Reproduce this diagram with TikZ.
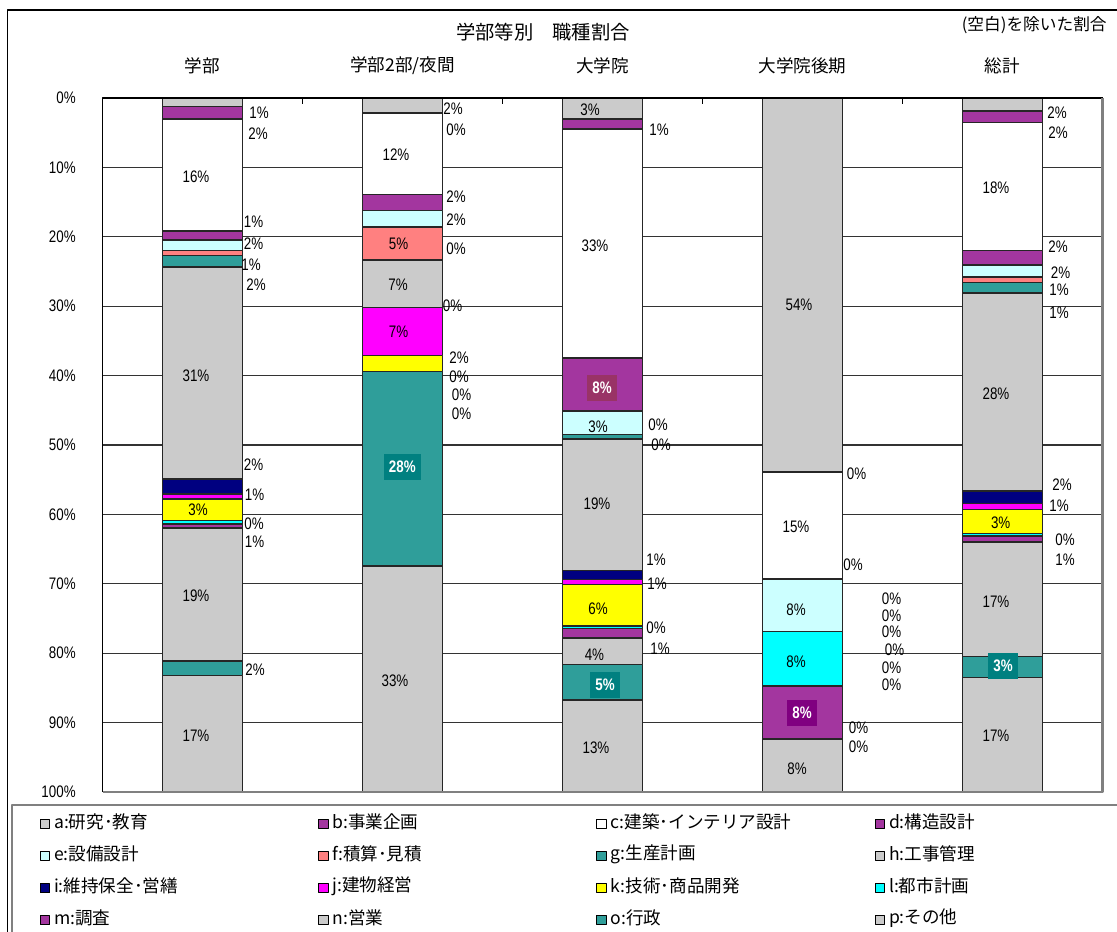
\documentclass[tikz,border=0pt]{standalone}
\usepackage{fontspec}
\setmainfont{Noto Sans CJK JP}
\newfontfamily\pctfont[FakeStretch=0.8]{Liberation Sans}
\definecolor{segA}{HTML}{CBCBCB}
\definecolor{segB}{HTML}{A3369F}
\definecolor{segE}{HTML}{CCFFFF}
\definecolor{segF}{HTML}{FF8080}
\definecolor{segG}{HTML}{2F9E9A}
\definecolor{segI}{HTML}{000080}
\definecolor{segJ}{HTML}{FF00FF}
\definecolor{segK}{HTML}{FFFF00}
\definecolor{segL}{HTML}{00FFFF}
\definecolor{boxT}{HTML}{008080}
\definecolor{boxR}{HTML}{993366}
\definecolor{boxP}{HTML}{800080}
\begin{document}
\begin{tikzpicture}[x=0.02cm,y=-0.02cm,line join=round,
    seg/.style={draw=black!85,line width=0.9pt},
    val/.style={font=\pctfont\fontsize{9.5}{10}\selectfont,inner sep=0pt},
    valbox/.style={fill=#1,text=white,font=\pctfont\bfseries\fontsize{9.5}{10}\selectfont,
        inner xsep=3pt,inner ysep=0pt,minimum height=0.52cm},
    cat/.style={font=\fontsize{10}{12}\selectfont,inner sep=0pt},
    key/.style={draw=black,line width=0.6pt,minimum width=0.19cm,minimum height=0.18cm,inner sep=0pt}]
    \useasboundingbox (0,0) rectangle (1117,931);
    \clip (0,0) rectangle (1117,931);
    \def\yt{98} \def\dy{6.94} % 1% = 6.94
    \draw[line width=0.6pt] (7.5,10) rectangle (1140,950);
    \draw[gray,line width=1.2pt] (11.8,805) rectangle (1140,950);
    % Gitter
    \foreach \k in {1,...,9} \draw[black!80,line width=0.6pt] (102.5,\yt+10*\dy*\k) -- (1102.5,\yt+10*\dy*\k);
    \foreach \k [evaluate=\k as \v using int(10*\k)] in {0,...,10}
        \node[val,anchor=east] (y\v) at (76,\yt+10*\dy*\k) {\v\%};
    % Balken
    \foreach \xc/\segs in {
        202.5/{segA/1.25,segB/3.0,white/19.2,segB/20.5,segE/22.0,segF/22.7,segG/24.35,segA/54.9,
               segI/57.1,segJ/57.8,segK/60.9,segL/61.4,segB/62.0,segA/81.1,segG/83.2,segA/100},
        402.5/{segA/2.2,white/13.9,segB/16.2,segE/18.6,segF/23.3,segA/30.2,segJ/37.1,segK/39.4,
               segG/67.4,segA/100},
        602.5/{segA/3.0,segB/4.5,white/37.5,segB/45.1,segE/48.5,segG/49.1,segA/68.1,segI/69.35,
               segJ/70.1,segK/76.1,segL/76.45,segB/77.85,segA/81.6,segG/86.75,segA/100},
        802.5/{segA/53.9,white/69.3,segE/76.9,segL/84.7,segB/92.4,segA/100},
        1002.5/{segA/1.9,segB/3.55,white/22.0,segB/24.1,segE/25.8,segF/26.6,segG/28.1,segA/56.6,
               segI/58.4,segJ/59.3,segK/62.75,segL/63.1,segB/64.0,segA/80.5,segG/83.5,segA/100}} {
        \xdef\segtop{0}
        \foreach \c/\p in \segs {
            \draw[seg,fill=\c] (\xc-40,\yt+\dy*\segtop) rectangle (\xc+40,\yt+\dy*\p);
            \xdef\segtop{\p}
        }
    }
    \draw[line width=0.6pt] (102.5,792) -- (102.5,98) -- (1102.5,98);
    \draw[gray,line width=1.2pt] (1102.5,98) -- (1102.5,792) -- (102.5,792);
    \foreach \x in {302.5,502.5,702.5,902.5} \draw[line width=0.6pt] (\x,98) -- (\x,104);
    % Werte
    \foreach \x/\y/\v in {
        259/112.7/1, 258/133.3/2, 196/176.7/16, 253.5/221.3/1, 253.5/243.3/2, 251/265/1, 256/284.3/2,
        196/375.7/31, 253.5/465/2, 254.6/495/1, 198/509.3/3, 254/524/0, 254.6/541.3/1, 196/596/19,
        255/669.3/2, 196/736/17,
        453/108.3/2, 456/129.3/0, 396/155/12, 456/196.7/2, 456/219.3/2, 398.6/243.3/5, 456/248.3/0,
        398/285/7, 452.5/306/0, 398.6/331.7/7, 459/357.3/2, 459/376.7/0, 461.5/394.3/0,
        461.5/413.3/0, 395/680.7/33,
        590/110/3, 659/129.3/1, 595/246/33, 598/426.7/3, 658/424.3/0, 661/445/0, 597/504/19,
        656/560/1, 657/583.3/1, 598/608.3/6, 656/627.3/0, 660/648.3/1, 594.4/655/4, 596/747.3/13,
        799/304.5/54, 856.6/473.3/0, 796/526.7/15, 853/565/0, 796/610/8, 891.5/598.3/0,
        891.5/615.7/0, 891.5/631.7/0, 894.5/649.3/0, 891.5/667.3/0, 891.5/685/0, 796/661.7/8,
        858.5/727.3/0, 858.5/746.7/0, 797/768.3/8,
        1057/112.3/2, 1058/132.7/2, 996/187.7/18, 1058/246.7/2, 1060.5/272.7/2, 1059/290/1,
        1059/313/1, 996/393.3/28, 1062/485/2, 1059/506/1, 1000.7/522.7/3, 1065/539.3/0,
        1065/559.3/1, 996/601.7/17, 996/736/17}
        \node[val] at (\x,\y) {\v\%};
    \foreach \x/\y/\c/\v in {402.3/467/boxT/28, 602/388/boxR/8, 605/684.7/boxT/5, 802/713/boxP/8, 1003/666/boxT/3}
        \node[valbox=\c] at (\x,\y) {\v\%};
    % Titel
    \node[font=\fontsize{11}{13}\selectfont] (title) at (543,31.7) {学部等別　職種割合};
    \node[font=\fontsize{9.5}{11}\selectfont,anchor=east,inner sep=0pt] (note) at (1107,25) {(空白)を除いた割合};
    \foreach \x/\t [count=\i] in {202.5/学部, 402.5/{学部2部/夜間}, 602.5/大学院, 802.5/大学院後期, 1002.5/総計}
        \node[cat] (cat\i) at (\x,66) {\t};
    % Legende
    \foreach \c/\t [count=\i from 0] in {segA/a:研究･教育, segB/b:事業企画, white/c:建築･インテリア設計, segB/d:構造設計,
        segE/e:設備設計, segF/f:積算･見積, segG/g:生産計画, segA/h:工事管理,
        segI/i:維持保全･営繕, segJ/j:建物経営, segK/k:技術･商品開発, segL/l:都市計画,
        segB/m:調査, segA/n:営業, segG/o:行政, segA/p:その他} {
        \pgfmathsetmacro\lx{45+278.3*mod(\i,4)}
        \pgfmathsetmacro\ly{824+32*int(\i/4)}
        \node[key,fill=\c] (k\i) at (\lx,\ly) {};
        \node[cat,anchor=west] (kt\i) at ([xshift=2pt,yshift=1pt]k\i.east) {\t};
    }
\end{tikzpicture}
\end{document}
